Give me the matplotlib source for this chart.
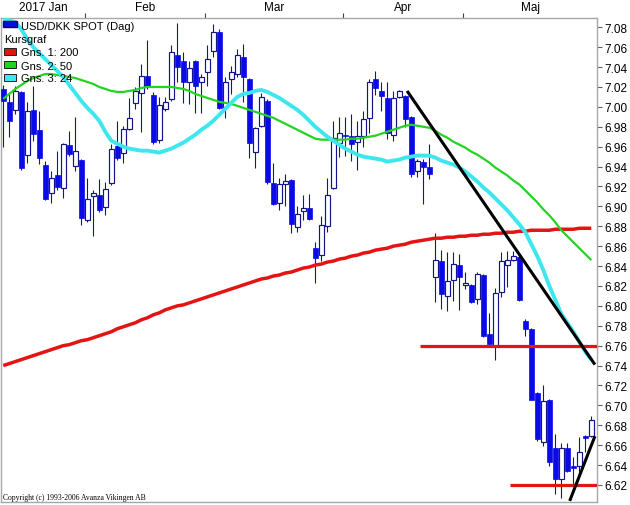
import numpy as np
import matplotlib
matplotlib.use("Agg")
import matplotlib.pyplot as plt
from matplotlib.patches import Rectangle

# ---------------- data ----------------
opens = [7.018, 7.005, 6.997, 7.015, 6.952, 6.997, 6.977, 6.942, 6.913, 6.932,
         6.918, 6.962, 6.941, 6.947, 6.886, 6.910, 6.911, 6.899, 6.923, 6.961,
         6.954, 6.978, 7.004, 7.014, 7.031, 7.012, 6.967, 6.998, 7.008, 7.052,
         7.046, 7.025, 7.046, 7.025, 7.035, 7.056, 7.075, 7.000, 7.028, 7.033,
         7.050, 7.028, 6.955, 6.981, 7.006, 6.923, 6.903, 6.922, 6.926, 6.879,
         6.895, 6.898, 6.858, 6.851, 6.880, 6.918, 6.964, 6.972, 6.971, 6.965,
         6.971, 6.989, 7.028, 7.016, 7.009, 6.972, 7.010, 7.011, 6.990, 6.936,
         6.945, 6.940, 6.829, 6.845, 6.810, 6.826, 6.841, 6.821, 6.821, 6.807,
         6.831, 6.772, 6.760, 6.814, 6.841, 6.846, 6.849, 6.785, 6.777, 6.712,
         6.663, 6.705, 6.657, 6.626, 6.657, 6.639, 6.639, 6.669, 6.669]
highs = [7.022, 7.013, 7.021, 7.016, 7.005, 7.021, 6.996, 6.946, 6.936, 6.956,
         6.964, 6.976, 6.990, 6.948, 6.929, 6.916, 6.928, 6.924, 6.963, 6.986,
         6.981, 7.009, 7.020, 7.043, 7.067, 7.015, 7.010, 7.010, 7.062, 7.084,
         7.055, 7.046, 7.047, 7.033, 7.062, 7.083, 7.078, 7.030, 7.041, 7.058,
         7.063, 7.029, 6.980, 7.014, 7.008, 6.944, 6.929, 6.933, 6.927, 6.900,
         6.911, 6.912, 6.864, 6.890, 6.929, 6.986, 6.990, 6.990, 6.993, 6.986,
         6.996, 7.028, 7.036, 7.025, 7.025, 7.016, 7.017, 7.012, 6.991, 6.948,
         6.948, 6.963, 6.873, 6.856, 6.854, 6.854, 6.852, 6.834, 6.822, 6.834,
         6.832, 6.793, 6.818, 6.854, 6.855, 6.855, 6.851, 6.787, 6.778, 6.713,
         6.720, 6.706, 6.671, 6.662, 6.662, 6.648, 6.668, 6.670, 6.689]
lows = [6.960, 6.970, 6.993, 6.937, 6.944, 6.966, 6.943, 6.906, 6.903, 6.916,
        6.908, 6.951, 6.936, 6.881, 6.884, 6.870, 6.894, 6.891, 6.921, 6.947,
        6.944, 6.977, 6.998, 6.975, 7.018, 6.963, 6.964, 6.996, 7.006, 7.025,
        7.004, 7.003, 6.994, 6.994, 7.021, 7.050, 6.998, 6.989, 7.013, 7.030,
        7.005, 6.949, 6.939, 6.980, 6.922, 6.901, 6.896, 6.900, 6.873, 6.874,
        6.886, 6.886, 6.823, 6.845, 6.874, 6.917, 6.950, 6.951, 6.946, 6.937,
        6.960, 6.974, 7.012, 6.996, 6.968, 6.966, 7.009, 6.980, 6.930, 6.930,
        6.902, 6.928, 6.804, 6.797, 6.795, 6.805, 6.796, 6.817, 6.803, 6.802,
        6.769, 6.760, 6.746, 6.809, 6.819, 6.845, 6.805, 6.770, 6.705, 6.664,
        6.659, 6.639, 6.611, 6.607, 6.633, 6.619, 6.627, 6.653, 6.668]
closes = [7.006, 6.986, 7.016, 6.939, 6.996, 6.973, 6.949, 6.907, 6.929, 6.919,
          6.963, 6.953, 6.956, 6.888, 6.907, 6.913, 6.896, 6.917, 6.958, 6.949,
          6.978, 6.989, 7.016, 7.031, 7.020, 6.965, 7.002, 7.005, 7.055, 7.040,
          7.025, 7.039, 7.021, 7.030, 7.048, 7.075, 6.999, 7.025, 7.035, 7.052,
          7.030, 6.964, 6.979, 7.010, 6.924, 6.902, 6.922, 6.925, 6.882, 6.892,
          6.898, 6.887, 6.848, 6.881, 6.911, 6.969, 6.974, 6.971, 6.963, 6.971,
          6.988, 7.025, 7.019, 7.011, 6.974, 7.009, 7.016, 6.988, 6.933, 6.946,
          6.940, 6.933, 6.846, 6.812, 6.825, 6.842, 6.829, 6.823, 6.804, 6.832,
          6.770, 6.762, 6.813, 6.845, 6.846, 6.850, 6.806, 6.777, 6.705, 6.666,
          6.704, 6.643, 6.626, 6.657, 6.634, 6.637, 6.653, 6.667, 6.685]

ma200 = [6.740, 6.742, 6.744, 6.746, 6.748, 6.750, 6.752, 6.754, 6.756, 6.758,
         6.760, 6.761, 6.763, 6.765, 6.766, 6.768, 6.770, 6.772, 6.774, 6.777,
         6.779, 6.781, 6.783, 6.786, 6.788, 6.791, 6.793, 6.796, 6.798, 6.800,
         6.801, 6.803, 6.805, 6.807, 6.809, 6.811, 6.813, 6.815, 6.817, 6.819,
         6.821, 6.823, 6.825, 6.827, 6.828, 6.830, 6.831, 6.833, 6.834, 6.836,
         6.838, 6.839, 6.841, 6.842, 6.844, 6.845, 6.847, 6.848, 6.850, 6.851,
         6.853, 6.854, 6.856, 6.857, 6.858, 6.860, 6.861, 6.862, 6.864, 6.865,
         6.866, 6.867, 6.868, 6.868, 6.869, 6.869, 6.870, 6.870, 6.871, 6.871,
         6.872, 6.872, 6.873, 6.873, 6.874, 6.874, 6.875, 6.875, 6.876, 6.876,
         6.876, 6.876, 6.877, 6.877, 6.877, 6.877, 6.878, 6.878, 6.878]
ma50 = [7.008, 7.013, 7.018, 7.022, 7.026, 7.029, 7.031, 7.033, 7.033, 7.032,
        7.031, 7.030, 7.029, 7.027, 7.025, 7.023, 7.020, 7.018, 7.016, 7.015,
        7.015, 7.016, 7.017, 7.019, 7.020, 7.020, 7.020, 7.020, 7.020, 7.019,
        7.018, 7.016, 7.013, 7.011, 7.009, 7.007, 7.005, 7.004, 7.003, 7.001,
        6.999, 6.997, 6.995, 6.993, 6.991, 6.989, 6.986, 6.983, 6.980, 6.977,
        6.974, 6.971, 6.968, 6.967, 6.967, 6.967, 6.967, 6.967, 6.968, 6.968,
        6.969, 6.970, 6.971, 6.973, 6.975, 6.977, 6.979, 6.981, 6.982, 6.981,
        6.980, 6.979, 6.976, 6.972, 6.969, 6.965, 6.962, 6.959, 6.955, 6.952,
        6.948, 6.944, 6.939, 6.935, 6.931, 6.926, 6.922, 6.916, 6.910, 6.904,
        6.897, 6.891, 6.884, 6.876, 6.870, 6.864, 6.858, 6.852, 6.846]
ma24 = [7.088, 7.087, 7.085, 7.078, 7.068, 7.060, 7.054, 7.048, 7.042, 7.036,
        7.030, 7.022, 7.014, 7.006, 6.999, 6.993, 6.986, 6.975, 6.966, 6.963,
        6.960, 6.958, 6.957, 6.956, 6.956, 6.955, 6.954, 6.956, 6.958, 6.961,
        6.964, 6.968, 6.972, 6.977, 6.981, 6.986, 6.992, 6.998, 7.004, 7.010,
        7.013, 7.014, 7.016, 7.017, 7.015, 7.012, 7.009, 7.005, 7.001, 6.997,
        6.992, 6.986, 6.980, 6.975, 6.970, 6.966, 6.962, 6.958, 6.955, 6.952,
        6.950, 6.949, 6.948, 6.947, 6.945, 6.946, 6.947, 6.949, 6.950, 6.951,
        6.951, 6.951, 6.949, 6.946, 6.944, 6.942, 6.939, 6.935, 6.930, 6.925,
        6.919, 6.914, 6.908, 6.902, 6.896, 6.889, 6.882, 6.874, 6.862, 6.850,
        6.836, 6.820, 6.806, 6.792, 6.783, 6.774, 6.764, 6.754, 6.746]

month_labels = ["2017 Jan", "Feb", "Mar", "Apr", "Maj"]
month_starts = [0, 14, 34, 57, 77]          # candle index where each month begins
y_ticks = [6.62, 6.64, 6.66, 6.68, 6.70, 6.72, 6.74, 6.76, 6.78, 6.80, 6.82, 6.84,
           6.86, 6.88, 6.90, 6.92, 6.94, 6.96, 6.98, 7.00, 7.02, 7.04, 7.06, 7.08]

support_levels = [6.76, 6.62]
support_from = [69.5, 84.5]                 # candle index where each level starts
trend_lines = [((67.3, 7.016), (98.6, 6.741)),
               ((94.4, 6.604), (98.6, 6.669))]

legend_title = "USD/DKK SPOT (Dag)"
legend_sub = "Kursgraf"
legend_ma = ["Gns. 1: 200", "Gns. 2: 50", "Gns. 3: 24"]
copyright_text = "Copyright (c) 1993-2006 Avanza Vikingen AB"

# ---------------- styles ----------------
W, H = 630, 506
BODY = "#0a0ae6"
WICK = "#14148c"
RED = "#e31414"
GREEN = "#22d422"
CYAN = "#3ee6ee"
FRAME = "#a8a8a8"
FONT = ["Liberation Sans", "DejaVu Sans"]

fig = plt.figure(figsize=(W / 100, H / 100), dpi=100)
fig.patch.set_facecolor("white")
ax = fig.add_axes([1 / W, 3 / H, 596 / W, 484 / H])
XL, XR = -0.38, 98.95
ax.set_xlim(XL, XR)
ax.set_ylim(6.6029, 7.0893)

n = len(closes)
x = np.arange(n)
o = np.array(opens); c = np.array(closes)
hi = np.array(highs); lo = np.array(lows)
up = c >= o
dn = ~up

ax.vlines(x, lo, hi, color=WICK, lw=0.8, zorder=2)
bw = 0.8
ax.bar(x[up], np.maximum(c[up] - o[up], 0.0012), bottom=o[up], width=bw,
       facecolor="white", edgecolor=WICK, linewidth=0.85, zorder=3)
ax.bar(x[dn], np.maximum(o[dn] - c[dn], 0.0012), bottom=c[dn], width=bw,
       facecolor=BODY, edgecolor=BODY, linewidth=0.5, zorder=3)

ax.plot(x, ma200, color=RED, lw=2.5, zorder=4, solid_capstyle="butt")
ax.plot(x, ma50, color=GREEN, lw=1.6, zorder=4, solid_capstyle="butt")
ax.plot(x, ma24, color=CYAN, lw=2.8, zorder=4, solid_capstyle="butt")

for lev, start in zip(support_levels, support_from):
    ax.hlines(lev, start, XR, color=RED, lw=2.3, zorder=6)
for (x0, y0), (x1, y1) in trend_lines:
    ax.plot([x0, x1], [y0, y1], color="black", lw=2.2, zorder=7,
            solid_capstyle="butt")

# frame
for s in ax.spines.values():
    s.set_color(FRAME)
    s.set_linewidth(1.0)

# right price axis
ax.yaxis.tick_right()
ax.set_yticks(y_ticks)
ax.set_yticklabels([f"{v:.2f}" for v in y_ticks], fontsize=8.5, family=FONT)
ax.tick_params(axis="y", direction="out", length=3.5, width=0.8,
               color="#606060", pad=2)

# top month axis
ax.xaxis.tick_top()
bounds = [m - 0.35 for m in month_starts[1:]]
edges = [XL] + bounds + [XR]
centers = [(edges[k] + edges[k + 1]) / 2 for k in range(len(month_labels))]
ax.set_xticks(bounds)
ax.set_xticklabels([])
ax.set_xticks(centers, minor=True)
ax.set_xticklabels(month_labels, minor=True, fontsize=8.5, family=FONT)
ax.tick_params(axis="x", which="major", direction="out", length=3.5, width=0.8,
               color="#404040", top=True, bottom=False)
ax.tick_params(axis="x", which="minor", length=0, pad=3.5, top=True, bottom=False)


def fx(px):
    return px / W


def fy(py):
    return 1 - py / H


# legend block (drawn on top of the chart)
fig.patches.append(Rectangle((fx(3), fy(28)), 14 / W, 6 / H, transform=fig.transFigure,
                             facecolor=BODY, edgecolor="#0a0a60", lw=1.0, zorder=10))
fig.text(fx(21), fy(30.5), legend_title, fontsize=8, family=FONT, va="baseline",
         ha="left", zorder=11)
fig.text(fx(4), fy(43), legend_sub, fontsize=8, family=FONT, va="baseline",
         ha="left", zorder=11)
for k, (lab, col) in enumerate(zip(legend_ma, [RED, GREEN, CYAN])):
    base = 56.5 + 13 * k
    fig.patches.append(Rectangle((fx(3.5), fy(base - 1)), 12.5 / W, 7 / H,
                                 transform=fig.transFigure, facecolor=col,
                                 edgecolor="#202020", lw=0.7, zorder=10))
    fig.text(fx(21), fy(base), lab, fontsize=8, family=FONT, va="baseline",
             ha="left", zorder=11)

fig.text(fx(3), fy(500), copyright_text, fontsize=5.5,
         family=["Liberation Serif", "DejaVu Serif"], va="baseline", ha="left")

fig.savefig("out.png", dpi=100, facecolor="white")
